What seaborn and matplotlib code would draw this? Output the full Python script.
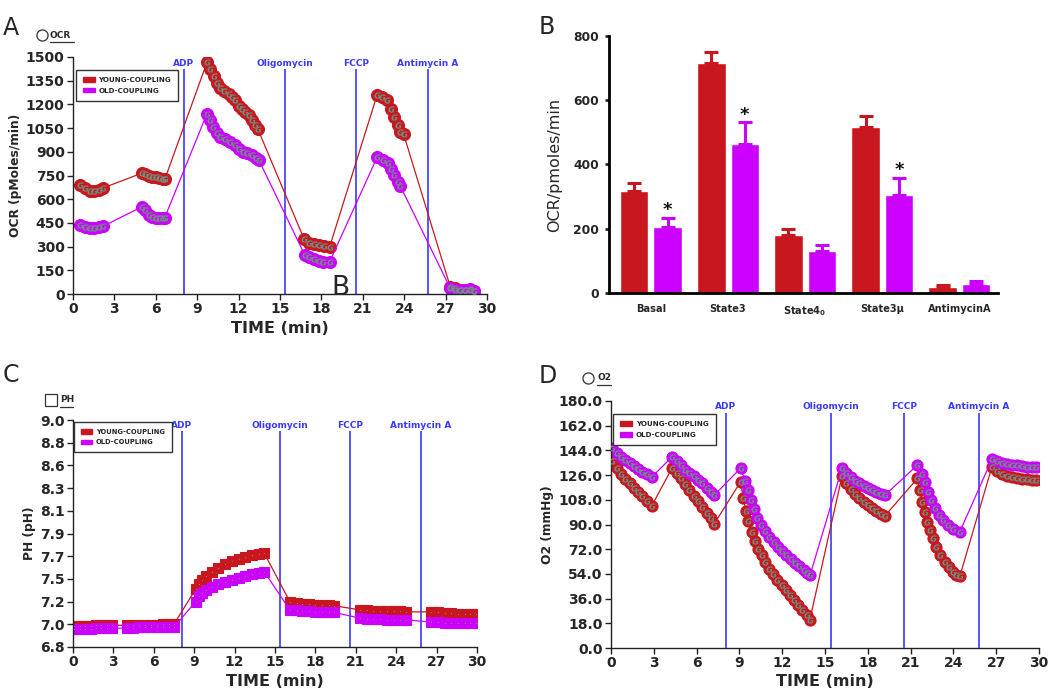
import matplotlib
matplotlib.use("Agg")
import numpy as np
import pandas as pd
import matplotlib.pyplot as plt
import seaborn as sns
from matplotlib.patches import Patch
from matplotlib.lines import Line2D

# ---- data ----
EVENTS = ["ADP", "Oligomycin", "FCCP", "Antimycin A"]

# A: OCR trace
ocr_young_t = [0.5, 0.85, 1.2, 1.5, 1.85, 2.2,
               5.0, 5.25, 5.5, 5.75, 6.0, 6.25, 6.5, 6.65,
               9.72, 9.95, 10.19, 10.43, 10.68, 10.97, 11.28, 11.52, 11.76, 12.0, 12.25, 12.49, 12.73, 12.97, 13.21, 13.38,
               16.76, 17.08, 17.44, 17.8, 18.16, 18.6,
               22.03, 22.39, 22.75, 23.04, 23.29, 23.53, 23.72, 23.96,
               27.34, 27.7, 28.07, 28.43, 28.79, 29.03]
ocr_young = [690, 668, 655, 650, 660, 672,
             765, 758, 748, 742, 738, 733, 728, 725,
             1469, 1426, 1377, 1335, 1306, 1285, 1268, 1247, 1226, 1188, 1173, 1152, 1131, 1100, 1068, 1047,
             345, 324, 314, 308, 303, 299,
             1258, 1247, 1226, 1173, 1121, 1068, 1026, 1011,
             45, 35, 28, 25, 28, 22]
ocr_old_t = [0.5, 0.85, 1.2, 1.5, 1.85, 2.2,
             5.0, 5.25, 5.5, 5.75, 6.0, 6.25, 6.5, 6.65,
             9.71, 9.9, 10.14, 10.43, 10.68, 11.04, 11.4, 11.76, 12.0, 12.32, 12.61, 12.97, 13.29, 13.45,
             16.8, 17.1, 17.45, 17.8, 18.15, 18.6,
             22.03, 22.46, 22.8, 23.04, 23.29, 23.53, 23.72,
             27.34, 27.7, 28.07, 28.43, 28.79, 29.03]
ocr_old = [435, 425, 420, 418, 422, 430,
           552, 530, 500, 485, 478, 478, 480, 484,
           1142, 1100, 1058, 1016, 995, 978, 963, 942, 917, 900, 893, 879, 858, 851,
           246, 232, 219, 209, 202, 204,
           864, 851, 830, 794, 752, 710, 683,
           36, 28, 25, 25, 30, 20]
ocr_event_t = [8.04, 15.34, 20.5, 25.7]

# B: summary bars
states = ["Basal", "State3", "State4$_{\\mathbf{0}}$", "State3\u03bc", "AntimycinA"]
young_mean = [316, 716, 180, 516, 19]
young_err = [26, 34, 19, 35, 7]
old_mean = [204, 463, 131, 304, 28]
old_err = [29, 68, 18, 55, 8]
old_signif = [True, True, False, True, False]

# C: pH trace
ph_t = [0.1, 0.5, 0.9, 1.3, 1.7, 2.1, 2.5, 2.9,
        4.0, 4.45, 4.9, 5.35, 5.8, 6.25, 6.7, 7.15, 7.5,
        9.1, 9.35, 9.6, 9.9, 10.3, 10.8, 11.3, 11.8, 12.3, 12.8, 13.3, 13.8, 14.2,
        16.1, 16.6, 17.0, 17.5, 18.0, 18.5, 19.0, 19.4,
        21.3, 21.8, 22.3, 22.8, 23.3, 23.8, 24.3, 24.7,
        26.6, 27.1, 27.6, 28.1, 28.6, 29.1, 29.5, 29.9]
ph_young = [7.0, 7.0, 7.005, 7.005, 7.01, 7.01, 7.01, 7.01,
            7.01, 7.01, 7.012, 7.015, 7.015, 7.018, 7.02, 7.02, 7.02,
            7.36, 7.41, 7.45, 7.49, 7.53, 7.57, 7.60, 7.63, 7.65, 7.67, 7.69, 7.70, 7.71,
            7.24, 7.23, 7.22, 7.215, 7.21, 7.21, 7.205, 7.20,
            7.16, 7.155, 7.15, 7.15, 7.145, 7.145, 7.145, 7.14,
            7.14, 7.135, 7.13, 7.125, 7.12, 7.12, 7.12, 7.12]
ph_old = [6.97, 6.97, 6.975, 6.975, 6.98, 6.98, 6.98, 6.98,
          6.985, 6.985, 6.99, 6.99, 6.99, 6.99, 6.99, 6.99, 6.99,
          7.24, 7.29, 7.32, 7.35, 7.38, 7.41, 7.43, 7.45, 7.47, 7.49, 7.51, 7.52, 7.53,
          7.16, 7.155, 7.15, 7.145, 7.14, 7.14, 7.14, 7.135,
          7.08, 7.075, 7.07, 7.07, 7.065, 7.065, 7.065, 7.065,
          7.04, 7.04, 7.035, 7.035, 7.035, 7.035, 7.035, 7.035]
ph_event_t = [8.08, 15.37, 20.56, 25.82]

# D: O2 trace
o2_young_t = [0.1, 0.4, 0.7, 1.0, 1.3, 1.6, 1.9, 2.2, 2.5, 2.85,
              4.3, 4.6, 4.9, 5.2, 5.5, 5.8, 6.1, 6.4, 6.7, 7.0, 7.25,
              9.08, 9.27, 9.46, 9.62, 9.85, 10.09, 10.32, 10.55, 10.79, 11.09, 11.37, 11.65, 11.96, 12.26, 12.54,
              12.84, 13.12, 13.42, 13.71, 13.94,
              16.2, 16.5, 16.8, 17.1, 17.4, 17.7, 18.0, 18.3, 18.6, 18.9, 19.2,
              21.48, 21.64, 21.83, 21.99, 22.18, 22.34, 22.58, 22.81, 23.09, 23.39, 23.7, 23.98, 24.2, 24.45,
              26.7, 27.05, 27.4, 27.75, 28.1, 28.45, 28.8, 29.15, 29.5, 29.8]
o2_young = [136, 131, 127, 123.5, 120, 116.5, 113.5, 110.5, 107, 103.5,
            131.5, 127.5, 124, 119.5, 115.5, 111, 107, 103, 98.5, 94.5, 90.7,
            121.1, 109.0, 99.7, 92.4, 84.7, 78.1, 72.5, 67.6, 62.8, 57.9, 53.8, 49.9, 45.7, 42.1, 38.4,
            34.8, 31.1, 27.5, 24.3, 20.7,
            125.5, 120, 116, 112, 109, 106.5, 104, 102, 100, 98, 96.3,
            123.6, 115, 106.5, 99, 92, 86, 80, 73.7, 67.6, 62.8, 59, 55.5, 53.5, 52.3,
            132, 129, 127, 125.5, 124.5, 124, 123.5, 123, 122.7, 122.4]
o2_old_t = [0.1, 0.4, 0.7, 1.0, 1.3, 1.6, 1.9, 2.2, 2.5, 2.85,
            4.3, 4.6, 4.9, 5.2, 5.5, 5.8, 6.1, 6.4, 6.7, 7.0, 7.25,
            9.08, 9.4, 9.6, 9.8, 10.0, 10.25, 10.5, 10.8, 11.1, 11.4, 11.7, 12.0, 12.3, 12.6, 12.9,
            13.2, 13.5, 13.75, 13.95,
            16.2, 16.5, 16.8, 17.1, 17.4, 17.7, 18.0, 18.3, 18.6, 18.9, 19.2,
            21.48, 21.83, 21.99, 22.23, 22.46, 22.69, 23.0, 23.28, 23.63, 23.98, 24.45,
            26.7, 27.05, 27.4, 27.75, 28.1, 28.45, 28.8, 29.15, 29.5, 29.8]
o2_old = [146, 142, 139.5, 137, 134.5, 132.5, 130.5, 128.5, 126.5, 124.5,
          139.5, 136, 133, 130, 127.5, 125, 122.5, 120, 116.5, 114, 111.5,
          131, 122, 115, 108, 101, 95, 90, 85, 81, 77, 73.5, 70.5, 67.5, 64.5, 62,
          59.5, 57, 55, 53,
          131.3, 127.5, 124.5, 122, 120, 118, 116.5, 115, 113.5, 112.5, 111.4,
          133.3, 127, 121, 114, 108, 102, 97, 93, 89.5, 87, 84.7,
          137.5, 136, 135, 134, 133.5, 133, 132.5, 132, 131.8, 131.6]
o2_event_t = [8.06, 15.39, 20.55, 25.8]

RED = "#c8171e"
MAG = "#cc00ff"
BLUE = "#4848ff"
GCOL = "#6f8f80"

sns.set_style("ticks")
plt.rcParams["font.family"] = ["DejaVu Sans"]
plt.rcParams["font.weight"] = "bold"
plt.rcParams["axes.labelweight"] = "bold"

fig = plt.figure(figsize=(10.5, 6.93), dpi=100)


def px(x, y):
    """pixel position -> figure fraction"""
    return x / 1050, 1 - y / 693


def trace(ax, t, v, color, marker, ms, glyph=True):
    sns.lineplot(x=t, y=v, ax=ax, color=color, linewidth=0.9, sort=False,
                 estimator=None, marker=marker, markersize=ms,
                 markeredgecolor=color, markeredgewidth=0.8, legend=False)
    if glyph:
        ax.scatter(t, v, marker="$G$", s=20, color=GCOL, linewidths=0, zorder=4)
    else:
        ax.scatter(t, v, marker=".", s=2, color="#8a8a8a", linewidths=0, zorder=4)


def events(ax, ev_t, ytop, ylab, ybot):
    for x, name in zip(ev_t, EVENTS):
        ax.vlines(x, ybot, ytop, color=BLUE, lw=1.3, zorder=1)
        ax.text(x, ylab, name, ha="center", va="center", color="#3a3aff",
                fontsize=6.5, fontweight="bold")


def legend(ax, x0, top, fs):
    handles = [Patch(facecolor=RED, edgecolor=RED, label="YOUNG-COUPLING"),
               Patch(facecolor=MAG, edgecolor=MAG, label="OLD-COUPLING")]
    leg = ax.legend(handles=handles, loc="upper left", bbox_to_anchor=(x0, top),
                    borderaxespad=0, fontsize=fs, frameon=True, fancybox=False,
                    edgecolor="#333333", framealpha=1, handlelength=1.7,
                    handleheight=0.6, handletextpad=0.5, labelspacing=0.65,
                    borderpad=1.0)
    leg.get_frame().set_linewidth(1.0)


def style_ts(ax, yticks, fmt, ylabel):
    ax.set_xlim(0, 30)
    ax.set_xticks(range(0, 31, 3))
    ax.set_ylim(yticks[0], yticks[-1])
    ax.set_yticks(yticks)
    ax.set_yticklabels([fmt % v for v in yticks])
    sns.despine(ax=ax)
    for s in ["left", "bottom"]:
        ax.spines[s].set_linewidth(1.0)
        ax.spines[s].set_color("#222222")
    ax.tick_params(labelsize=10, width=1, length=4, pad=2, color="#222222")
    ax.set_xlabel("TIME (min)", fontsize=11.5, labelpad=3)
    ax.set_ylabel(ylabel, fontsize=8.8, labelpad=3)


def unit_tag(xs, y, symbol, text, x_text, x_end):
    fig.add_artist(Line2D([xs / 1050], [1 - y / 693], marker=symbol, mfc="none",
                          mec="#333333", ms=8, mew=0.9, transform=fig.transFigure))
    fig.text(*px(x_text, y), text, fontsize=6.5, fontweight="bold", va="center", ha="left")
    fig.add_artist(Line2D([x_text / 1050, x_end / 1050], [1 - (y + 7) / 693] * 2,
                          color="#333333", lw=0.9, transform=fig.transFigure))


# ---- A ----
axA = fig.add_axes([73 / 1050, 1 - 294 / 693, 414 / 1050, 237 / 693])
trace(axA, ocr_young_t, ocr_young, RED, "o", 8.6)
trace(axA, ocr_old_t, ocr_old, MAG, "o", 8.6)
events(axA, ocr_event_t, 1426, 1462, 0)
style_ts(axA, list(range(0, 1501, 150)), "%d", "OCR (pMoles/min)")
legend(axA, 0.007, 0.945, 5.1)

# ---- B ----
axB = fig.add_axes([609 / 1050, 1 - 293 / 693, 389 / 1050, 257 / 693])
dfB = pd.DataFrame({"state": states * 2,
                    "group": ["YOUNG-COUPLING"] * 5 + ["OLD-COUPLING"] * 5,
                    "ocr": young_mean + old_mean})
sns.barplot(data=dfB, x="state", y="ocr", hue="group", palette=[RED, MAG],
            width=0.87, gap=0.15, errorbar=None, legend=False, saturation=1, ax=axB)
for cont, means, errs, col, sig in zip(axB.containers, [young_mean, old_mean],
                                       [young_err, old_err], [RED, MAG],
                                       [[False] * 5, old_signif]):
    xs = [b.get_x() + b.get_width() / 2 for b in cont]
    axB.errorbar(xs, means, yerr=[np.zeros(len(errs)), errs], fmt="none", ecolor=col,
                 elinewidth=2.2, capsize=5.3, capthick=2.2)
    for x, m, e, s in zip(xs, means, errs, sig):
        if s:
            axB.text(x, m + e + 24, "*", ha="center", va="center", fontsize=13,
                     fontweight="bold", color="#111111")
axB.set_xlim(-0.543, 4.5)
axB.set_ylim(0, 800)
axB.set_yticks([0, 200, 400, 600, 800])
sns.despine(ax=axB)
for s in ["left", "bottom"]:
    axB.spines[s].set_linewidth(2.0)
    axB.spines[s].set_color("black")
axB.tick_params(axis="y", labelsize=8.8, width=2, length=3, pad=4)
axB.tick_params(axis="x", labelsize=7.1, length=0, pad=8)
axB.set_xlabel("")
axB.set_ylabel("OCR/pmoles/min", fontsize=11.5, fontweight="normal", labelpad=8)

# ---- C ----
axC = fig.add_axes([73 / 1050, 1 - 647 / 693, 404 / 1050, 227 / 693])
trace(axC, ph_t, ph_young, RED, "s", 7.5, glyph=False)
trace(axC, ph_t, ph_old, MAG, "s", 7.5, glyph=False)
events(axC, ph_event_t, 8.89, 8.945, 6.8)
style_ts(axC, list(np.linspace(6.8, 9.0, 11)), "%.1f", "PH (pH)")
legend(axC, 0.0025, 0.991, 4.9)

# ---- D ----
axD = fig.add_axes([611 / 1050, 1 - 648 / 693, 428 / 1050, 247 / 693])
trace(axD, o2_young_t, o2_young, RED, "o", 8)
trace(axD, o2_old_t, o2_old, MAG, "o", 8)
events(axD, o2_event_t, 171.5, 175.9, 0)
style_ts(axD, list(range(0, 181, 18)), "%.1f", "O2 (mmHg)")
legend(axD, 0.005, 0.947, 5.1)

# ---- figure annotations ----
for lab, (x, y), fs in [("A", (3, 28), 17), ("B", (539, 27), 17), ("C", (3, 375), 17),
                        ("D", (539, 376), 17), ("B", (331, 288), 19)]:
    fig.text(*px(x, y), lab, fontsize=fs, fontweight="normal", va="center", ha="left")
unit_tag(42, 35, "o", "OCR", 50, 74)
unit_tag(51, 400, "s", "PH", 60, 73)
unit_tag(588, 378, "o", "O2", 597, 611)

fig.savefig("out.png", dpi=100)
